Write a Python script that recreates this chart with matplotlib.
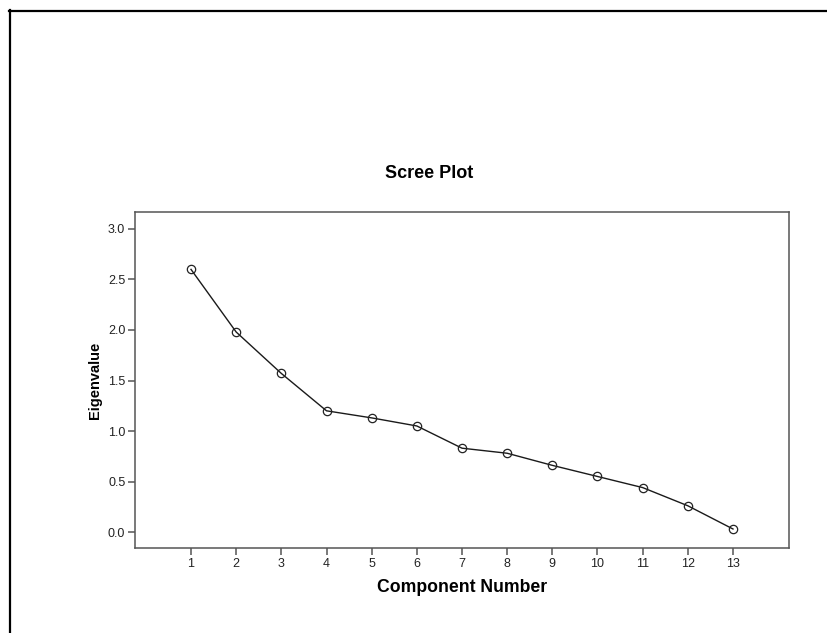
import matplotlib
matplotlib.use("Agg")
import matplotlib.pyplot as plt
from matplotlib.lines import Line2D

plt.rcParams['font.family'] = ['Liberation Sans', 'DejaVu Sans']

components = [1, 2, 3, 4, 5, 6, 7, 8, 9, 10, 11, 12, 13]
eigenvalues = [2.60, 1.98, 1.57, 1.20, 1.13, 1.05, 0.83, 0.78, 0.66, 0.55, 0.44, 0.26, 0.03]
yticks = [0.0, 0.5, 1.0, 1.5, 2.0, 2.5, 3.0]
ytick_labels = ["0.0", "0.5", "1.0", "1.5", "2.0", "2.5", "3.0"]

W, H = 828, 633
fig = plt.figure(figsize=(W / 100, H / 100), dpi=100)

# outer frame (top & left edges visible)
fig.add_artist(Line2D([9 / W, 1.0], [1 - 11 / H, 1 - 11 / H], color='black', lw=1.6,
                      transform=fig.transFigure))
fig.add_artist(Line2D([10 / W, 10 / W], [0.0, 1 - 10 / H], color='black', lw=1.6,
                      transform=fig.transFigure))

ax = fig.add_axes([135 / W, (H - 548) / H, (789 - 135) / W, (548 - 212) / H])
ax.plot(components, eigenvalues, color='#1a1a1a', lw=1.0, marker='o', markersize=6,
        markerfacecolor='none', markeredgecolor='#222222', markeredgewidth=0.9)

ax.set_xlim(-0.24, 14.24)
ax.set_ylim(-0.158, 3.168)
ax.set_xticks(components)
ax.set_xticklabels([str(c) for c in components])
ax.set_yticks(yticks)
ax.set_yticklabels(ytick_labels)

for s in ax.spines.values():
    s.set_color('#555555')
    s.set_linewidth(1.1)
ax.tick_params(axis='both', direction='out', length=5, width=1.1, color='#555555',
               labelsize=9, labelcolor='#222222', pad=2)

ax.set_xlabel("Component Number", fontsize=12.7, fontweight='bold', labelpad=7)
ax.set_ylabel("Eigenvalue", fontsize=10.5, fontweight='bold', labelpad=4)

fig.text(429 / W, 1 - 173 / H, "Scree Plot", fontsize=13, fontweight='bold',
         ha='center', va='center')

fig.savefig("out.png", dpi=100)
